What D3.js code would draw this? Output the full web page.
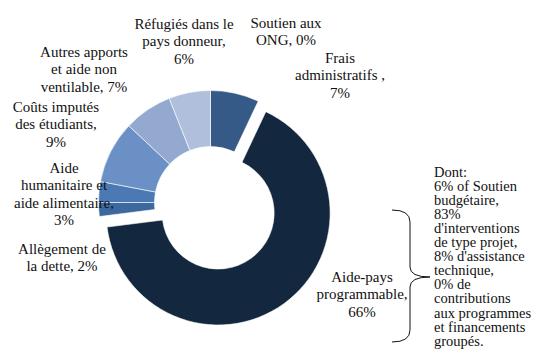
<!DOCTYPE html>
<html>
<head>
<meta charset="utf-8">
<script src="https://cdn.jsdelivr.net/npm/d3@7"></script>
</head>
<body style="margin:0;background:#fff">
<svg id="chart" width="545" height="357" style="display:block"></svg>
<script>
// Categories, clockwise from 12 o'clock
const categories = [
  "Frais administratifs",
  "Aide-pays programmable",
  "Allègement de la dette",
  "Aide humanitaire et aide alimentaire",
  "Coûts imputés des étudiants",
  "Autres apports et aide non ventilable",
  "Réfugiés dans le pays donneur",
  "Soutien aux ONG"
];
const shares = [7, 66, 2, 3, 9, 7, 6, 0];
const colors = ["#365a87", "#13273f", "#3d69a1", "#4a79b4", "#6a90c5", "#94a9d0", "#afbfdc", "#7f9cc9"];
const exploded = ["Aide-pays programmable"];

// Label lines for each slice
const labelLines = [
  ["Frais", "administratifs ,", "7%"],
  ["Aide-pays", "programmable,", "66%"],
  ["Allègement de", "la dette, 2%"],
  ["Aide", "humanitaire et", "aide alimentaire,", "3%"],
  ["Coûts imputés", "des étudiants,", "9%"],
  ["Autres apports", "et aide non", "ventilable, 7%"],
  ["Réfugiés dans le", "pays donneur,", "6%"],
  ["Soutien aux", "ONG, 0%"]
];

// Breakdown note for the programmable aid slice
const noteLines = [
  "Dont:", "6% of Soutien", "budgétaire,", "83%", "d'interventions",
  "de type projet,", "8% d'assistance", "technique,", "0% de",
  "contributions", "aux programmes", "et financements", "groupés."
];

const FONT = "Liberation Serif";
const svg = d3.select("#chart");
const cx = 210.5, cy = 202.5;
const outerR = 112, innerR = 56, explodeDist = 13;

const data = categories.map((c, i) => ({ name: c, value: shares[i], color: colors[i], lines: labelLines[i] }));
const pie = d3.pie().value(d => d.value).sort(null);
const arcs = pie(data);
const arc = d3.arc().innerRadius(innerR).outerRadius(outerR);

const g = svg.append("g").attr("transform", `translate(${cx},${cy})`);
g.selectAll("path.slice")
  .data(arcs.filter(a => a.value > 0))
  .join("path")
  .attr("class", "slice")
  .attr("d", arc)
  .attr("fill", d => d.data.color)
  .attr("stroke", "#ffffff")
  .attr("stroke-width", 0.6)
  .attr("transform", d => {
    if (!exploded.includes(d.data.name)) return null;
    const mid = (d.startAngle + d.endAngle) / 2;
    return `translate(${explodeDist * Math.sin(mid)},${-explodeDist * Math.cos(mid)})`;
  });

// Label anchor points (centre x, first baseline y)
const labelPos = {
  "Frais administratifs": [340, 63],
  "Aide-pays programmable": [362, 282],
  "Allègement de la dette": [62, 254],
  "Aide humanitaire et aide alimentaire": [64, 173],
  "Coûts imputés des étudiants": [56, 112],
  "Autres apports et aide non ventilable": [84, 57],
  "Réfugiés dans le pays donneur": [184, 29],
  "Soutien aux ONG": [286, 28]
};
const lineH = 17.3;

// One text element per line, each carrying its own font settings
function addLine(x, y, str, anchor, size) {
  svg.append("text")
    .attr("x", x)
    .attr("y", y)
    .attr("text-anchor", anchor)
    .attr("font-family", FONT)
    .attr("font-size", size)
    .attr("fill", "#111")
    .text(str);
}

data.forEach(d => {
  const [x, y] = labelPos[d.name];
  d.lines.forEach((ln, i) => addLine(x, y + i * lineH, ln, "middle", 15));
});

noteLines.forEach((ln, i) => addLine(434, 177 + i * 14.05, ln, "start", 14.5));

// Curly brace linking the slice label to the note
const braceX0 = 392, braceX1 = 410, braceTip = 430;
const braceTop = 210, braceBottom = 342, braceMid = 277;
const bracePath = d3.path();
bracePath.moveTo(braceX0, braceTop);
bracePath.quadraticCurveTo(braceX1, braceTop, braceX1, braceTop + 12);
bracePath.lineTo(braceX1, braceMid - 10);
bracePath.quadraticCurveTo(braceX1, braceMid, braceTip, braceMid);
bracePath.quadraticCurveTo(braceX1, braceMid, braceX1, braceMid + 10);
bracePath.lineTo(braceX1, braceBottom - 12);
bracePath.quadraticCurveTo(braceX1, braceBottom, braceX0, braceBottom);
svg.append("path")
  .attr("d", bracePath.toString())
  .attr("fill", "none")
  .attr("stroke", "#111")
  .attr("stroke-width", 1);
</script>
</body>
</html>
